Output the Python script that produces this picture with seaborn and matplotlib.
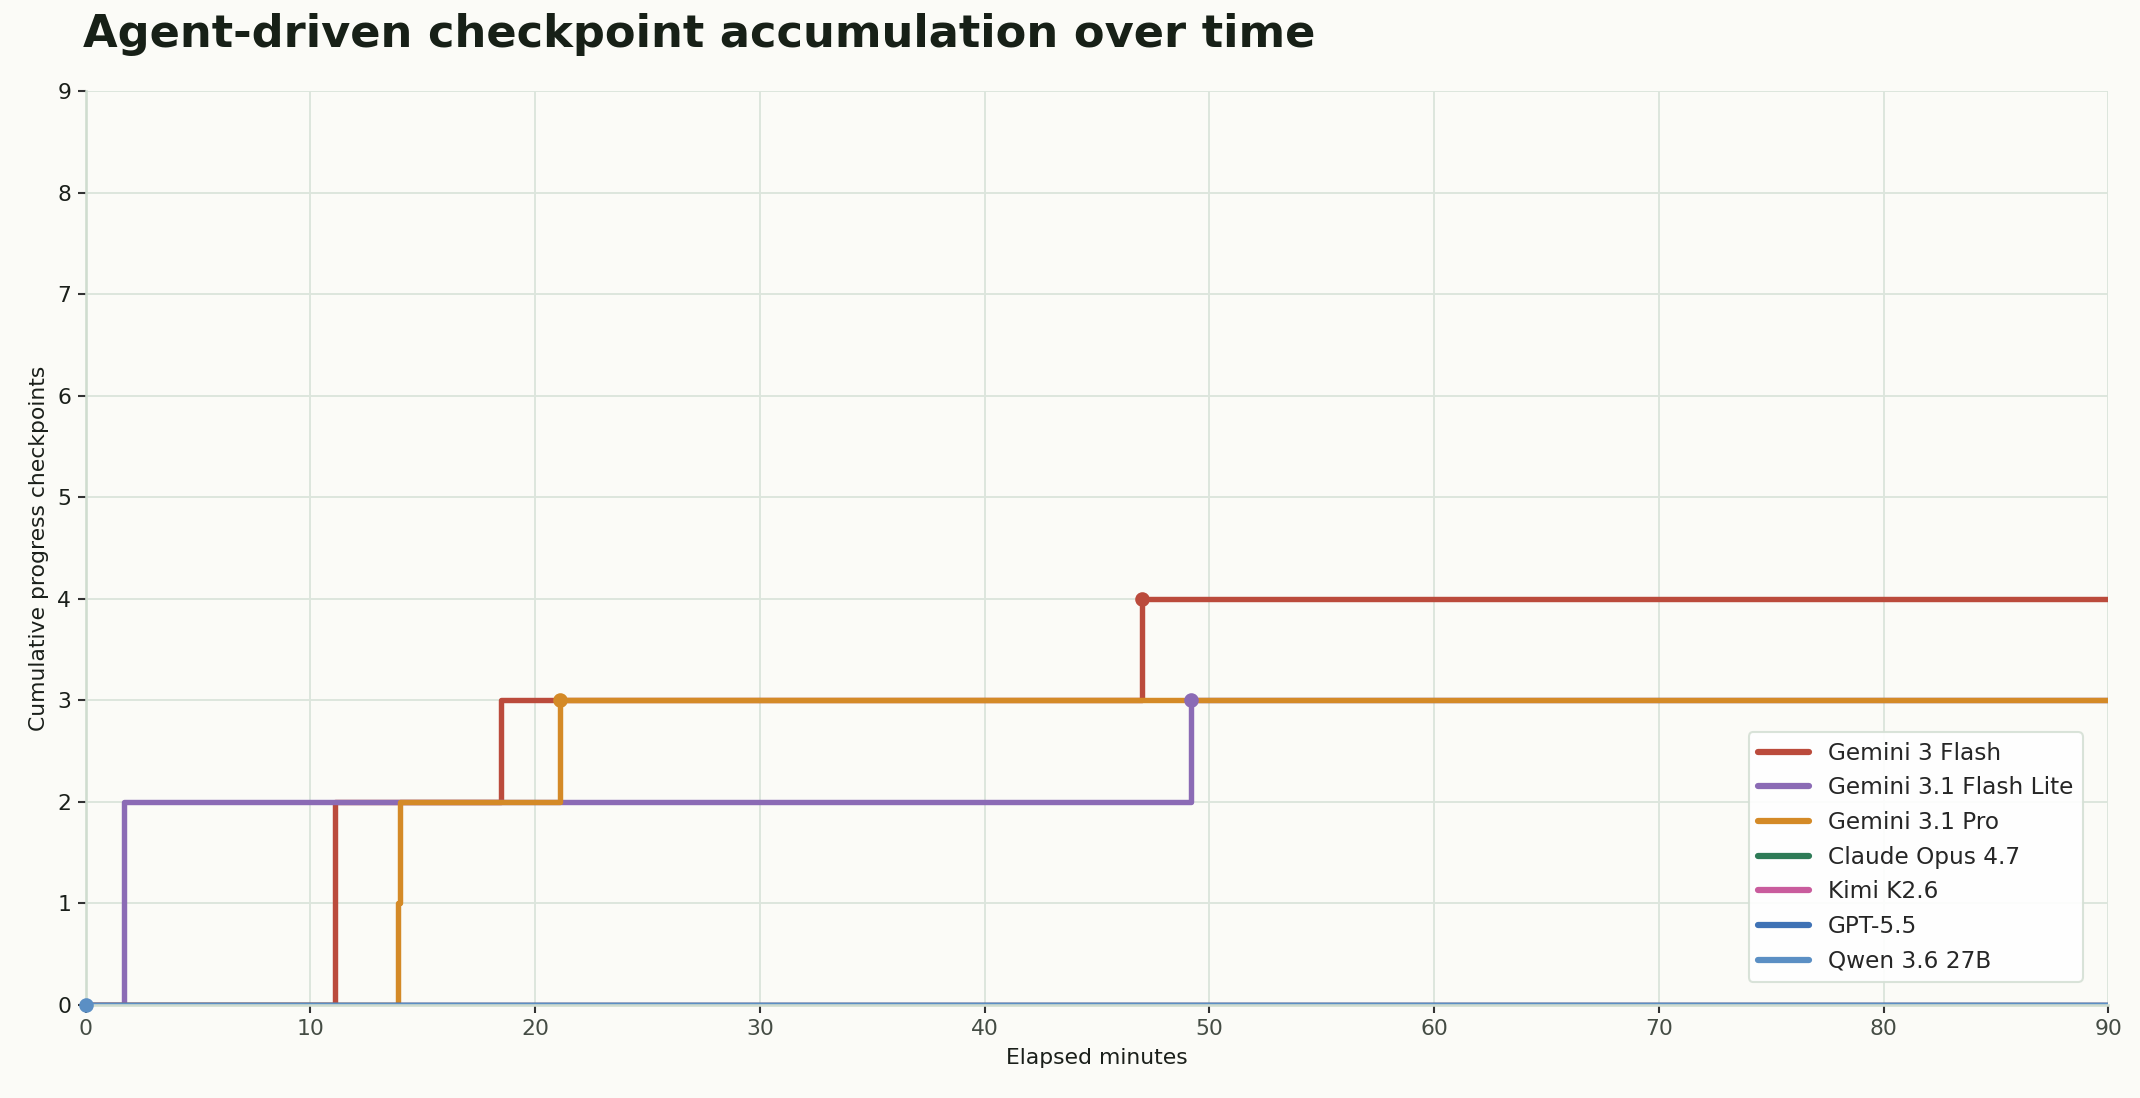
import matplotlib
matplotlib.use("Agg")
import matplotlib.pyplot as plt
import seaborn as sns
import pandas as pd

models = ["Gemini 3 Flash", "Gemini 3.1 Flash Lite", "Gemini 3.1 Pro",
          "Claude Opus 4.7", "Kimi K2.6", "GPT-5.5", "Qwen 3.6 27B"]
colors = ["#bb4b3c", "#8b6bb5", "#d48a27", "#2e7b57", "#c95c9d", "#3f72b5", "#5b8fc4"]
times = [
    [0, 11.1, 18.5, 47.0, 90],
    [0, 1.7, 49.2, 90],
    [0, 13.9, 14.0, 21.1, 90],
    [0, 90],
    [0, 90],
    [0, 90],
    [0, 90],
]
counts = [
    [0, 2, 3, 4, 4],
    [0, 2, 3, 3],
    [0, 1, 2, 3, 3],
    [0, 0],
    [0, 0],
    [0, 0],
    [0, 0],
]
marker_idx = [3, 2, 3, None, None, None, 0]

sns.set_theme(style="whitegrid")
bg = "#fbfbf7"
fig, ax = plt.subplots(figsize=(14.27, 7.32), dpi=150)
fig.patch.set_facecolor(bg)
ax.set_facecolor(bg)

for m, c, t, v, mi in zip(models, colors, times, counts, marker_idx):
    df = pd.DataFrame({"t": t, "v": v})
    sns.lineplot(data=df, x="t", y="v", ax=ax, color=c, lw=2.6,
                 drawstyle="steps-post", label=m, estimator=None, sort=False)
    if mi is not None:
        ax.plot(t[mi], v[mi], "o", color=c, ms=6, clip_on=False, zorder=5)

ax.set_xlim(0, 90)
ax.set_ylim(0, 9)
ax.set_xticks(range(0, 91, 10))
ax.set_yticks(range(0, 10))
ax.grid(True, color="#dce5dc", lw=0.9)
for s in ["top", "right"]:
    ax.spines[s].set_visible(False)
for s in ["left", "bottom"]:
    ax.spines[s].set_color("#cfdccf")
ax.tick_params(axis="both", length=4, width=1, color="#333333", labelsize=10.5, pad=3,
               left=True, bottom=True)
ax.tick_params(axis="x", labelcolor="#444c44")
ax.tick_params(axis="y", labelcolor="#1a1f1a")
ax.set_xlabel("Elapsed minutes", fontsize=10.5, color="#1a1f1a")
ax.set_ylabel("Cumulative progress checkpoints", fontsize=10.5, color="#1a1f1a")
fig.suptitle("Agent-driven checkpoint accumulation over time", x=0.039, y=0.988,
             ha="left", fontsize=21.5, fontweight="bold", color="#172017")
leg = ax.legend(loc="lower right", bbox_to_anchor=(0.993, 0.012), fontsize=11.2,
                frameon=True, facecolor="white", edgecolor="#d5e0d5", framealpha=0.9,
                handlelength=2.2)
for h in leg.get_lines():
    h.set_linewidth(3)
fig.subplots_adjust(left=0.04, right=0.985, top=0.917, bottom=0.085)
fig.savefig("out.png", dpi=150, facecolor=bg)
